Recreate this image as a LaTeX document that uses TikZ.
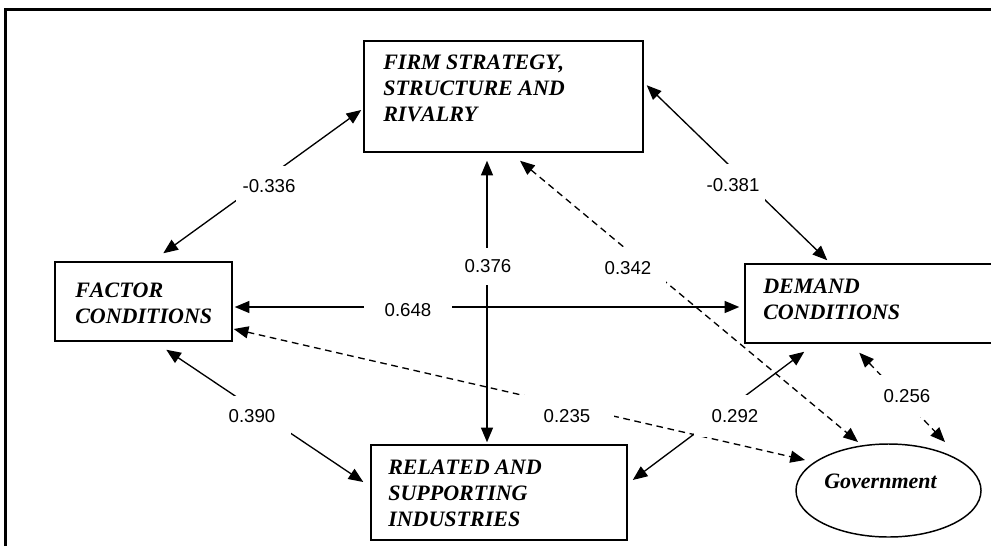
\documentclass[tikz,border=0pt]{standalone}
\usepackage{fontspec}
\setmainfont[Kerning=Off]{Liberation Serif}
\newfontfamily\numfont{Liberation Sans}
\usetikzlibrary{arrows.meta,calc,shapes.geometric}
\tikzset{
  box/.style={draw, line width=1.1pt, inner sep=0pt},
  boxtext/.style={anchor=north west, inner sep=0pt, align=left,
    font=\fontsize{16.5pt}{19.5pt}\selectfont\bfseries\itshape},
  conn/.style={line width=1pt, {Triangle[length=11pt,width=9pt]}-{Triangle[length=11pt,width=9pt]}},
  dconn/.style={conn, dash pattern=on 5pt off 3.5pt},
  val/.style={fill=white, inner sep=0pt, minimum height=30pt,
    font=\numfont\fontsize{14pt}{16pt}\selectfont}
}
\begin{document}
\begin{tikzpicture}[x=0.75pt,y=-0.75pt]
\useasboundingbox (0,0) rectangle (991,546);
\clip (0,0) rectangle (991,546);
\fill[white] (0,0) rectangle (991,546);
% frame
\draw[line width=1.6pt] (5.5,546) -- (5.5,9.5) -- (991,9.5);
% boxes
\node[box, minimum width=209.25pt, minimum height=83.25pt] (firm) at (503.5,96.5) {};
\node[boxtext] (firmtxt) at (383,55) {FIRM STRATEGY,\\STRUCTURE AND\\RIVALRY};
\node[box, minimum width=132.75pt, minimum height=59.25pt] (factor) at (143.5,301.5) {};
\node[boxtext] (factortxt) at (75,283) {FACTOR\\CONDITIONS};
\node[box, minimum width=191.25pt, minimum height=59.25pt] (demand) at (872.5,303.5) {};
\node[boxtext] (demandtxt) at (763,279) {DEMAND\\CONDITIONS};
\node[box, minimum width=192pt, minimum height=71.25pt] (related) at (499,492.5) {};
\node[boxtext] (relatedtxt) at (388,460) {RELATED AND\\SUPPORTING\\INDUSTRIES};
\node[box, ellipse, minimum width=138.75pt, minimum height=69.75pt] (gov) at (888.5,490.5) {};
\node[anchor=base, inner sep=0pt, font=\fontsize{16.5pt}{19.5pt}\selectfont\bfseries\itshape] (govtxt) at (880.5,488) {Government};
% connectors
\draw[conn] ($(factor.north west)+(109,-8)$) -- ($(firm.west)+(-2,13.5)$);
\draw[conn] ($(firm.north east)+(3,45)$) -- ($(demand.north west)+(83,-3)$);
\draw[conn] ($(factor.east)+(2,5.5)$) -- ($(demand.west)+(-5,3.5)$);
\draw[conn] ($(firm.south)+(-16.5,8)$) -- ($(related.north)+(-12,-2)$);
\draw[conn] ($(factor.south west)+(112,8)$) -- ($(related.west)+(-7,-10.5)$);
\draw[conn] ($(related.east)+(5,-12.5)$) -- ($(demand.south west)+(60,8)$);
\draw[dconn] ($(firm.south)+(16.5,8)$) -- ($(gov.center)+(-30.5,-48.5)$);
\draw[dconn] ($(factor.east)+(1,27.5)$) -- ($(gov.center)+(-83.5,-30.5)$);
\draw[dconn] ($(demand.south west)+(115,9)$) -- ($(gov.center)+(56.5,-48.5)$);
% values
\node[val, minimum width=50pt] (v1) at (269,186) {-0.336};
\node[val, minimum width=48pt, minimum height=32pt] (v2) at (733,185) {-0.381};
\node[val, minimum width=66pt] (v3) at (408,310) {0.648};
\node[val, minimum width=40pt, minimum height=28pt] (v4) at (488,266.5) {0.376};
\node[val, minimum width=58pt, minimum height=30pt] (v5) at (252,416) {0.390};
\node[val, minimum width=61pt, minimum height=31pt] (v6) at (735,416) {0.292};
\node[val, minimum width=57pt, minimum height=31pt] (v7) at (628,268) {0.342};
\node[val, minimum width=71pt, minimum height=31pt] (v8) at (567,416) {0.235};
\node[val, minimum width=45pt, minimum height=32pt] (v9) at (907,396) {0.256};
\end{tikzpicture}
\end{document}
